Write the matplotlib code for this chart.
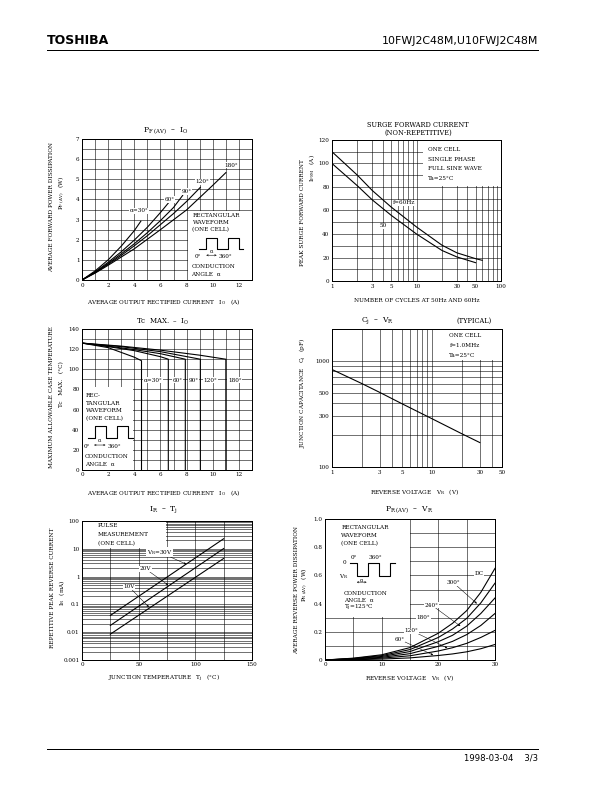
import numpy as np
import matplotlib
matplotlib.use("Agg")
import matplotlib.pyplot as plt
from matplotlib.patches import Rectangle
from matplotlib.ticker import FixedLocator, FixedFormatter, NullFormatter

plt.rcParams['font.family'] = 'DejaVu Serif'
plt.rcParams['mathtext.fontset'] = 'dejavuserif'

# ---- data ----

# P_F(AV) - I_O  (rectangular waveform)
pf_labels = ['α=30°', '60°', '90°', '120°', '180°']
pf_io = [
    [0, 1, 2, 3, 4, 4.5],
    [0, 1, 2, 3, 4, 5, 6, 6.6],
    [0, 1, 2, 3, 4, 5, 6, 7, 7.7],
    [0, 1, 2, 3, 4, 5, 6, 7, 8, 9.05],
    [0, 1, 2, 4, 6, 8, 10, 11],
]
pf_w = [
    [0, 0.45, 1.0, 1.68, 2.45, 2.92],
    [0, 0.40, 0.88, 1.40, 1.98, 2.62, 3.35, 3.82],
    [0, 0.38, 0.82, 1.30, 1.80, 2.35, 2.95, 3.60, 4.20],
    [0, 0.36, 0.78, 1.22, 1.70, 2.20, 2.75, 3.30, 3.90, 4.60],
    [0, 0.34, 0.73, 1.55, 2.50, 3.48, 4.70, 5.33],
]
pf_label_xy = [(4.35, 3.44), (6.7, 4.0), (8.0, 4.39), (9.2, 4.87), (11.4, 5.69)]

# surge forward current
surge_cycles_60 = [1, 2, 3, 5, 10, 20, 30, 50, 60]
surge_a_60 = [110, 90, 77, 63, 46, 30.5, 24, 19, 17.6]
surge_cycles_50 = [1, 2, 3, 5, 10, 20, 30, 50]
surge_a_50 = [100, 81, 69, 56, 40, 26, 20.5, 15.6]

# Tc max - I_O
tc_labels = ['α=30°', '60°', '90°', '120°', '180°']
tc_io = [
    [0, 2, 4, 4.55, 4.55],
    [0, 2, 4, 6, 6.6, 6.6],
    [0, 2, 4, 6, 7.9, 7.9],
    [0, 3, 6, 9.05, 9.05],
    [0, 3, 6, 9, 11, 11],
]
tc_deg = [
    [126, 121.5, 112, 108.5, 0],
    [126, 122.5, 118.5, 112.5, 110, 0],
    [126, 123, 119.5, 115.5, 110, 0],
    [126, 122.5, 117.5, 110, 0],
    [126, 123, 119, 114, 110, 0],
]
tc_label_x = [5.45, 7.3, 8.55, 9.82, 11.68]

# Cj - VR
cj_vr = [1, 2, 3, 5, 10, 20, 30]
cj_pf = [830, 610, 505, 395, 285, 205, 170]

# IR - Tj
ir_labels = ['30V', '20V', '10V']
ir_tj = [[25, 125], [25, 125], [25, 125]]
ir_ma = [[0.04, 23], [0.0175, 10.2], [0.0085, 4.5]]

# PR(AV) - VR
pr_labels = ['DC', '300°', '240°', '180°', '120°', '60°']
pr_vr = [0, 5, 10, 15, 20, 22.5, 25, 27.5, 30]
pr_w = [
    [0, 0.013, 0.037, 0.088, 0.19, 0.26, 0.35, 0.48, 0.65],
    [0, 0.011, 0.031, 0.074, 0.16, 0.22, 0.295, 0.405, 0.545],
    [0, 0.009, 0.025, 0.060, 0.13, 0.175, 0.24, 0.33, 0.44],
    [0, 0.007, 0.019, 0.045, 0.097, 0.132, 0.18, 0.245, 0.33],
    [0, 0.0045, 0.013, 0.030, 0.064, 0.087, 0.118, 0.16, 0.21],
    [0, 0.002, 0.0065, 0.015, 0.032, 0.043, 0.058, 0.08, 0.11],
]

# schematic pulse train used in the inset boxes
WAVE_X = [0, 0.15, 0.15, 0.40, 0.40, 0.65, 0.65, 0.90, 0.90, 1.0]
WAVE_Y = [0, 0, 1, 1, 0, 0, 1, 1, 0, 0]

W, H = 612, 792
fig = plt.figure(figsize=(W / 72, H / 72), dpi=72)

FS = 5.8      # small text
TKS = 5.6     # tick labels
TFS = 7.6     # chart titles


def ftext(x, y, s, **kw):
    kw.setdefault('ha', 'center')
    kw.setdefault('va', 'center')
    kw.setdefault('fontsize', FS)
    fig.text(x / W, 1 - y / H, s, **kw)


def make_ax(l, t, r, b):
    ax = fig.add_axes([l / W, 1 - b / H, (r - l) / W, (b - t) / H])
    ax.set_axisbelow(True)
    for sp in ax.spines.values():
        sp.set_linewidth(1.0)
    ax.tick_params(which='both', length=0, labelsize=TKS, pad=2.5)
    return ax


def set_grid(ax, axis, major, labels, minor):
    a = ax.xaxis if axis == 'x' else ax.yaxis
    a.set_major_locator(FixedLocator(major))
    a.set_major_formatter(FixedFormatter(labels))
    a.set_minor_locator(FixedLocator(minor))
    a.set_minor_formatter(NullFormatter())


def finish_grid(ax):
    ax.grid(which='both', color='black', lw=0.55)


def white_box(ax, x, y, w, h):
    ax.add_patch(Rectangle((x, y), w, h, fc='white', ec='none', zorder=1))


def pulse(ax, x0, x1, ylo, yhi, invert=False):
    xs = [x0 + (x1 - x0) * v for v in WAVE_X]
    ys = [(yhi - (yhi - ylo) * v) if invert else (ylo + (yhi - ylo) * v) for v in WAVE_Y]
    ax.plot(xs, ys, color='black', lw=1.1, zorder=3)
    return xs


def dim_arrow(ax, xa, xb, y):
    ax.annotate('', xy=(xa, y), xytext=(xb, y),
                arrowprops=dict(arrowstyle='<->', lw=0.5, color='black',
                                shrinkA=0, shrinkB=0, mutation_scale=4), zorder=3)


lbl_box = dict(fc='white', ec='none', pad=0.6)
line_kw = dict(color='black', lw=1.1, zorder=2)

# ---- header / footer ----
ftext(47, 41, 'TOSHIBA', ha='left', fontsize=12.5, fontweight='bold', family='DejaVu Sans')
ftext(538, 41, '10FWJ2C48M,U10FWJ2C48M', ha='right', fontsize=11, family='DejaVu Sans')
fig.add_artist(plt.Line2D([47 / W, 538 / W], [1 - 49.5 / H, 1 - 49.5 / H], color='black', lw=1.0))
fig.add_artist(plt.Line2D([47 / W, 538 / W], [1 - 749 / H, 1 - 749 / H], color='black', lw=1.0))
ftext(538, 758, '1998-03-04    3/3', ha='right', fontsize=8.5, family='DejaVu Sans')

# ---- chart 1 : P_F(AV) - I_O ----
ax = make_ax(82, 139, 252, 280)
ax.set_xlim(0, 13)
ax.set_ylim(0, 7)
set_grid(ax, 'x', [0, 2, 4, 6, 8, 10, 12], ['0', '2', '4', '6', '8', '10', '12'],
         [1, 3, 5, 7, 9, 11])
set_grid(ax, 'y', list(range(8)), [str(v) for v in range(8)], list(np.arange(0.5, 7, 1.0)))
finish_grid(ax)
white_box(ax, 8.1, 0, 4.9, 3.45)
for xs, ys, lab, (lx, ly) in zip(pf_io, pf_w, pf_labels, pf_label_xy):
    ax.plot(xs, ys, **line_kw)
    ax.text(lx, ly, lab, fontsize=FS, ha='center', va='center', bbox=lbl_box, zorder=4)
for i, s in enumerate(['RECTANGULAR', 'WAVEFORM', '(ONE CELL)']):
    ax.text(8.45, 3.2 - 0.36 * i, s, fontsize=FS, ha='left', va='center', zorder=3)
pulse(ax, 8.98, 12.34, 1.52, 2.1)
dim_arrow(ax, 9.5, 10.3, 1.23)
ax.text(9.9, 1.4, 'α', fontsize=5, ha='center', va='center', zorder=3)
ax.text(8.85, 1.16, '0°', fontsize=FS, ha='center', va='center', zorder=3)
ax.text(10.95, 1.16, '360°', fontsize=FS, ha='center', va='center', zorder=3)
ax.text(8.35, 0.66, 'CONDUCTION', fontsize=FS, ha='left', va='center', zorder=3)
ax.text(8.35, 0.28, 'ANGLE  α', fontsize=FS, ha='left', va='center', zorder=3)
ftext(166, 131, r'$\mathrm{P_{F\ (AV)}}$  –  $\mathrm{I_O}$', fontsize=TFS)
ftext(52, 207, 'AVERAGE FORWARD POWER DISSIPATION', rotation=90)
ftext(62, 193, r'$\mathrm{P_{F\ (AV)}}$   (W)', rotation=90)
ftext(164, 302, r'AVERAGE OUTPUT RECTIFIED CURRENT   $\mathrm{I_O}$   (A)')

# ---- chart 2 : surge forward current ----
ax = make_ax(332, 140, 501, 281)
ax.set_xscale('log')
ax.set_xlim(1, 100)
ax.set_ylim(0, 120)
set_grid(ax, 'x', [1, 3, 5, 10, 30, 50, 100], ['1', '3', '5', '10', '30', '50', '100'],
         [2, 4, 6, 7, 8, 9, 20, 40, 60, 70, 80, 90])
set_grid(ax, 'y', list(range(0, 121, 20)), [str(v) for v in range(0, 121, 20)],
         list(range(10, 120, 20)))
finish_grid(ax)
white_box(ax, 11.8, 80.6, 88.2, 39.4)
ax.plot(surge_cycles_60, surge_a_60, **line_kw)
ax.plot(surge_cycles_50, surge_a_50, **line_kw)
ax.text(0.36, 66.5, 'f=60Hz', transform=ax.get_yaxis_transform(), fontsize=FS,
        ha='left', va='center', bbox=lbl_box, zorder=4)
ax.text(0.30, 47, '50', transform=ax.get_yaxis_transform(), fontsize=FS,
        ha='center', va='center', bbox=lbl_box, zorder=4)
for i, s in enumerate(['ONE CELL', 'SINGLE PHASE', 'FULL SINE WAVE', 'Ta=25°C']):
    ax.text(0.57, 0.935 - 0.07 * i, s, transform=ax.transAxes, fontsize=FS,
            ha='left', va='center', zorder=3)
ftext(418, 125, 'SURGE FORWARD CURRENT', fontsize=6.6)
ftext(418, 133, '(NON-REPETITIVE)', fontsize=6.6)
ftext(303, 213, 'PEAK SURGE FORWARD CURRENT', rotation=90)
ftext(312, 168, r'$\mathrm{I_{FSM}}$   (A)', rotation=90)
ftext(417, 300, 'NUMBER OF CYCLES AT 50Hz AND 60Hz')

# ---- chart 3 : Tc max - I_O ----
ax = make_ax(82, 329, 252, 470)
ax.set_xlim(0, 13)
ax.set_ylim(0, 140)
set_grid(ax, 'x', [0, 2, 4, 6, 8, 10, 12], ['0', '2', '4', '6', '8', '10', '12'],
         [1, 3, 5, 7, 9, 11])
set_grid(ax, 'y', list(range(0, 141, 20)), [str(v) for v in range(0, 141, 20)],
         list(range(10, 140, 20)))
finish_grid(ax)
white_box(ax, 0, 0, 3.93, 82)
for xs, ys, lab, lx in zip(tc_io, tc_deg, tc_labels, tc_label_x):
    ax.plot(xs, ys, **line_kw)
    ax.text(lx, 89, lab, fontsize=FS, ha='center', va='center', bbox=lbl_box, zorder=4)
for i, s in enumerate(['REC-', 'TANGULAR', 'WAVEFORM', '(ONE CELL)']):
    ax.text(0.3, 73.6 - 7.4 * i, s, fontsize=FS, ha='left', va='center', zorder=3)
pulse(ax, 0.48, 3.87, 31.5, 43.8)
dim_arrow(ax, 0.92, 1.8, 24.8)
ax.text(1.33, 29, 'α', fontsize=5, ha='center', va='center', zorder=3)
ax.text(0.4, 23.5, '0°', fontsize=FS, ha='center', va='center', zorder=3)
ax.text(2.45, 23.5, '360°', fontsize=FS, ha='center', va='center', zorder=3)
ax.text(0.2, 13.3, 'CONDUCTION', fontsize=FS, ha='left', va='center', zorder=3)
ax.text(0.2, 6, 'ANGLE  α', fontsize=FS, ha='left', va='center', zorder=3)
ftext(163, 322, r'Tc  MAX.  –  $\mathrm{I_O}$', fontsize=7)
ftext(52, 397, 'MAXIMUM ALLOWABLE CASE TEMPERATURE', rotation=90)
ftext(62, 384, 'Tc   MAX.   (°C)', rotation=90)
ftext(164, 493, r'AVERAGE OUTPUT RECTIFIED CURRENT   $\mathrm{I_O}$   (A)')

# ---- chart 4 : Cj - VR ----
ax = make_ax(332, 329, 502, 467)
ax.set_xscale('log')
ax.set_yscale('log')
ax.set_xlim(1, 50)
ax.set_ylim(100, 2000)
set_grid(ax, 'x', [1, 3, 5, 10, 30, 50], ['1', '3', '5', '10', '30', '50'],
         [2, 4, 6, 7, 8, 9, 20, 40])
set_grid(ax, 'y', [100, 300, 500, 1000], ['100', '300', '500', '1000'],
         [200, 400, 600, 700, 800, 900])
finish_grid(ax)
white_box(ax, 14, 1012, 36, 988)
ax.plot(cj_vr, cj_pf, **line_kw)
for i, s in enumerate(['ONE CELL', 'f=1.0MHz', 'Ta=25°C']):
    ax.text(0.69, 0.95 - 0.07 * i, s, transform=ax.transAxes, fontsize=FS,
            ha='left', va='center', zorder=3)
ftext(377, 321, r'$\mathrm{C_j}$  –  $\mathrm{V_R}$', fontsize=TFS)
ftext(474, 321, '(TYPICAL)', fontsize=6.6)
ftext(303, 393, r'JUNCTION CAPACITANCE   $\mathrm{C_j}$   (pF)', rotation=90)
ftext(415, 492, r'REVERSE VOLTAGE   $\mathrm{V_R}$   (V)')

# ---- chart 5 : IR - Tj ----
ax = make_ax(82, 521, 252, 660)
ax.set_yscale('log')
ax.set_xlim(0, 150)
ax.set_ylim(0.001, 100)
set_grid(ax, 'x', [0, 50, 100, 150], ['0', '50', '100', '150'], [25, 75, 125])
ir_minor = [m * 10.0 ** e for e in range(-3, 2) for m in range(2, 10)]
set_grid(ax, 'y', [0.001, 0.01, 0.1, 1, 10, 100], ['0.001', '0.01', '0.1', '1', '10', '100'],
         ir_minor)
finish_grid(ax)
white_box(ax, 0, 10.5, 74.4, 89.5)
for xs, ys in zip(ir_tj, ir_ma):
    ax.plot(xs, ys, **line_kw)
for i, s in enumerate(['PULSE', 'MEASUREMENT', '(ONE CELL)']):
    ax.text(0.094, 0.965 - 0.063 * i, s, transform=ax.transAxes, fontsize=FS,
            ha='left', va='center', zorder=3)
arr = dict(arrowstyle='-|>', lw=0.5, color='black', mutation_scale=4, shrinkA=0, shrinkB=0)
ax.annotate(r'$\mathrm{V_R}$=' + ir_labels[0], xy=(92, 2.8), xytext=(57, 7.6), fontsize=FS,
            ha='left', va='center', bbox=lbl_box, arrowprops=arr, zorder=4)
ax.annotate(ir_labels[1], xy=(76, 0.5), xytext=(56, 1.9), fontsize=FS,
            ha='center', va='center', bbox=lbl_box, arrowprops=arr, zorder=4)
ax.annotate(ir_labels[2], xy=(59, 0.08), xytext=(41.5, 0.43), fontsize=FS,
            ha='center', va='center', bbox=lbl_box, arrowprops=arr, zorder=4)
ftext(164, 510, r'$\mathrm{I_R}$  –  $\mathrm{T_j}$', fontsize=TFS)
ftext(52, 588, 'REPETITIVE PEAK REVERSE CURRENT', rotation=90)
ftext(62, 593, r'$\mathrm{I_R}$   (mA)', rotation=90)
ftext(164, 678, r'JUNCTION TEMPERATURE   $\mathrm{T_j}$   (°C)')

# ---- chart 6 : PR(AV) - VR ----
ax = make_ax(325, 519, 495, 660)
ax.set_xlim(0, 30)
ax.set_ylim(0, 1.0)
set_grid(ax, 'x', [0, 10, 20, 30], ['0', '10', '20', '30'], [5, 15, 25])
set_grid(ax, 'y', [0, 0.2, 0.4, 0.6, 0.8, 1.0], ['0', '0.2', '0.4', '0.6', '0.8', '1.0'],
         [0.1, 0.3, 0.5, 0.7, 0.9])
finish_grid(ax)
white_box(ax, 0, 0.305, 14.92, 0.695)
for ys in pr_w:
    ax.plot(pr_vr, ys, **line_kw)
ax.text(27.2, 0.617, pr_labels[0], fontsize=FS, ha='center', va='center', bbox=lbl_box, zorder=4)
ax.annotate(pr_labels[1], xy=(26.8, 0.40), xytext=(22.6, 0.55), fontsize=FS,
            ha='center', va='center', bbox=lbl_box, arrowprops=arr, zorder=4)
ax.annotate(pr_labels[2], xy=(23.9, 0.24), xytext=(18.8, 0.39), fontsize=FS,
            ha='center', va='center', bbox=lbl_box, arrowprops=arr, zorder=4)
ax.text(17.4, 0.30, pr_labels[3], fontsize=FS, ha='center', va='center', bbox=lbl_box, zorder=4)
ax.annotate(pr_labels[4], xy=(21.6, 0.085), xytext=(15.3, 0.208), fontsize=FS,
            ha='center', va='center', bbox=lbl_box, arrowprops=arr, zorder=4)
ax.annotate(pr_labels[5], xy=(19.1, 0.035), xytext=(13.1, 0.147), fontsize=FS,
            ha='center', va='center', bbox=lbl_box, arrowprops=arr, zorder=4)
for i, s in enumerate(['RECTANGULAR', 'WAVEFORM', '(ONE CELL)']):
    ax.text(2.9, 0.94 - 0.057 * i, s, fontsize=FS, ha='left', va='center', zorder=3)
pulse(ax, 4.4, 12.35, 0.593, 0.688, invert=True)
ax.text(3.4, 0.688, '0', fontsize=FS, ha='center', va='center', zorder=3)
ax.text(5.1, 0.728, '0°', fontsize=FS, ha='center', va='center', zorder=3)
ax.text(8.9, 0.728, '360°', fontsize=FS, ha='center', va='center', zorder=3)
ax.text(3.3, 0.593, r'$\mathrm{V_R}$', fontsize=FS, ha='center', va='center', zorder=3)
dim_arrow(ax, 5.6, 7.35, 0.552)
ax.text(6.5, 0.566, 'α', fontsize=5, ha='center', va='center', zorder=3)
ax.text(3.3, 0.475, 'CONDUCTION', fontsize=FS, ha='left', va='center', zorder=3)
ax.text(3.3, 0.42, 'ANGLE  α', fontsize=FS, ha='left', va='center', zorder=3)
ax.text(3.3, 0.366, r'$\mathrm{T_j}$=125°C', fontsize=FS, ha='left', va='center', zorder=3)
ftext(409, 510, r'$\mathrm{P_{R\ (AV)}}$  –  $\mathrm{V_R}$', fontsize=TFS)
ftext(297, 590, 'AVERAGE REVERSE POWER DISSIPATION', rotation=90)
ftext(305, 585, r'$\mathrm{P_{R\ (AV)}}$   (W)', rotation=90)
ftext(410, 678, r'REVERSE VOLTAGE   $\mathrm{V_R}$   (V)')

fig.savefig('out.png', dpi=72)
